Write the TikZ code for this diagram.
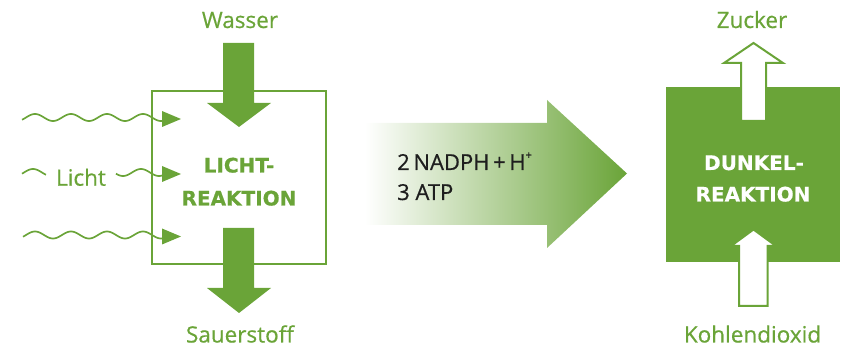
\documentclass[tikz,border=0pt]{standalone}
\usepackage{fontspec}
\setmainfont{Open Sans}
\newfontfamily\regfont{Open Sans}[FakeBold=0.6]
\newfontfamily\labelbold{DejaVu Sans Bold}[FakeBold=0.5]
\definecolor{lgreen}{RGB}{106,164,56}
\definecolor{dtext}{RGB}{30,30,30}
\begin{document}
\begin{tikzpicture}[x=1pt,y=-1pt,
  lbl/.style={font=\regfont\fontsize{22.5}{26}\selectfont, text=lgreen, anchor=base, inner sep=0pt},
  boldlbl/.style={font=\labelbold\fontsize{20}{26}\selectfont, text=lgreen, anchor=base, inner sep=0pt},
  midlbl/.style={font=\regfont\fontsize{22}{26}\selectfont, text=dtext, anchor=base west, inner sep=0pt},
  wave/.style={draw=lgreen, line width=1.7pt},
  solidarrow/.style={fill=lgreen},
  openarrow/.style={fill=white, draw=lgreen, line width=2pt},
  boxline/.style={draw=lgreen, line width=2pt}
]
\useasboundingbox (0,0) rectangle (841,347);

% Light reaction box
\draw[boxline] (152.3,90.7) rectangle (326,264);

% Wasser arrow
\fill[solidarrow] (223,43) -- (254,43) -- (254,103) -- (271,103) -- (239,127) -- (207,103) -- (223,103) -- cycle;
% Sauerstoff arrow
\fill[solidarrow] (223,228) -- (254,228) -- (254,288) -- (271,288) -- (239,313) -- (207,288) -- (223,288) -- cycle;

\node[lbl] (wasser) at (240,28) {Wasser};
\node[lbl] (sauer) at (240,342.5) {Sauerstoff};
\node[boldlbl] (lichtA) at (239,172.5) {LICHT-};
\node[boldlbl] (lichtB) at (239,205.5) {REAKTION};

% light waves
\draw[wave] plot[domain=22:162,samples=150] (\x,{117.5-3.5*sin(10*(\x-26))});
\fill[lgreen] (162,111) -- (181,119) -- (162,127) -- cycle;

\draw[wave] plot[domain=22:46,samples=40] (\x,{172.5-3.5*sin(10*(\x-24))});
\draw[wave] plot[domain=116:162,samples=60] (\x,{172.5-3.5*sin(10*(\x-24))});
\fill[lgreen] (162,166) -- (181,174) -- (162,182) -- cycle;
\node[lbl] (licht) at (81,185.7) {Licht};

\draw[wave] plot[domain=23:162,samples=150] (\x,{235-3.5*sin(10*(\x-26))});
\fill[lgreen] (162,228.5) -- (181,236.5) -- (162,244.5) -- cycle;

% middle gradient arrow
\shade[left color=white, right color=lgreen] (365,123) -- (547,123) -- (547,100) -- (627,173.5) -- (547,248) -- (547,225) -- (365,225) -- cycle;
\node[midlbl] (nadph) at (397,170) {2\,NADPH\,+\,H\raisebox{0.5em}{\fontsize{11}{11}\selectfont+}};
\node[midlbl] (atp) at (397,200) {3 ATP};

% dark reaction box
\fill[lgreen] (666,87) rectangle (840,262);
\draw[openarrow] (741,121) -- (741,63) -- (724,63) -- (753.5,43) -- (783,63) -- (766,63) -- (766,121) -- cycle;
\draw[openarrow] (739,306) -- (739,246) -- (731,246) -- (753.5,229.5) -- (776,246) -- (767.5,246) -- (767.5,306) -- cycle;

\node[lbl] (zucker) at (752,28) {Zucker};
\node[lbl] (kohlen) at (752.5,342.5) {Kohlendioxid};
\node[boldlbl, text=white] (dunkelA) at (754,170) {DUNKEL-};
\node[boldlbl, text=white] (dunkelB) at (753,201.5) {REAKTION};
\end{tikzpicture}
\end{document}
